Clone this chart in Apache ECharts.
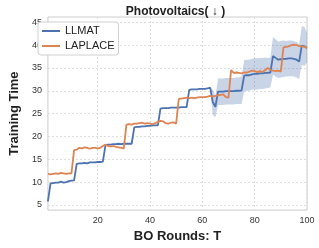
<!DOCTYPE html>
<html><head><meta charset="utf-8">
<script src="https://cdn.jsdelivr.net/npm/echarts@6/dist/echarts.min.js"></script>
<style>html,body{margin:0;padding:0;background:#fff}#c{width:319px;height:248px}</style>
</head><body><div id="c"></div>
<script>
const rounds = Array.from({length: 100}, (_, i) => i + 1);
const llmat = [5.8,9.7,9.8,9.9,9.9,10.1,9.9,10.0,10.2,10.3,
10.4,14.0,14.1,14.1,14.2,14.1,14.3,14.3,14.3,14.4,
14.4,14.5,18.1,18.2,18.2,18.3,18.3,18.4,18.3,18.4,
18.4,18.4,18.4,22.0,22.1,22.1,22.2,22.2,22.3,22.3,
22.4,22.4,22.4,26.1,26.2,26.2,26.2,26.3,26.3,26.3,
26.3,26.4,26.4,26.4,30.2,30.3,30.3,30.3,30.4,30.4,
30.4,30.5,30.7,27.5,26.5,29.8,29.8,29.8,29.9,29.9,
29.9,29.9,30.0,30.0,30.1,33.3,33.4,33.4,33.6,33.7,
33.7,33.8,33.8,33.9,33.9,34.0,37.6,37.2,36.8,36.9,
37.0,37.0,37.1,37.1,37.0,36.8,36.4,39.9,39.7,39.4];
const llmatStd = [0,0,0,0,0,0,0,0,0,0,
0,0,0,0,0,0,0,0,0,0,
0,0,0,0,0,0,0,0,0,0,
0,0,0,0,0,0,0,0,0,0,
0,0,0,0,0,0,0,0,0,0,
0,0,0,0,0,0,0,0,0,0,
0,0,0,2.8,2.3,2.9,2.9,2.9,2.9,2.9,
2.9,2.9,2.9,2.9,3.0,3.4,3.4,3.4,3.4,3.4,
3.4,3.4,3.4,3.4,3.3,3.3,4.1,4.1,4.0,4.0,
4.0,3.9,3.9,3.9,3.9,3.9,3.8,4.2,4.3,3.2];
const laplace = [11.8,11.7,11.8,11.9,11.8,12.0,11.9,11.8,11.9,11.9,
17.0,17.1,17.5,17.4,17.6,17.5,17.3,17.5,17.5,17.4,
17.5,17.9,18.2,17.9,17.8,17.9,17.7,17.6,17.5,17.4,
22.6,22.7,22.6,22.8,22.8,22.9,23.0,22.8,22.9,22.8,
22.7,22.9,23.2,23.4,23.3,22.9,22.8,23.0,23.1,22.8,
28.2,28.3,28.4,28.5,28.4,28.5,28.4,28.5,28.6,28.6,
28.6,28.7,28.9,28.7,28.9,29.0,29.1,29.2,28.6,28.5,
34.5,33.9,34.0,33.9,33.8,34.0,34.0,34.2,34.4,34.3,
34.1,34.3,34.1,34.5,35.0,34.6,34.4,34.3,34.4,34.2,
39.5,39.6,39.7,40.0,40.1,40.0,39.8,39.7,39.6,39.4];
const xTicks = [20, 40, 60, 80, 100];
const yTicks = [5, 10, 15, 20, 25, 30, 35, 40, 45];

const BLUE = '#4c72b0', ORANGE = '#dd8452';
const pairs = arr => rounds.map((r, i) => [r, arr[i]]);
const bandRows = rounds.map((r, i) => [r, llmat[i] - llmatStd[i], llmat[i] + llmatStd[i]]);

const chart = echarts.init(document.getElementById('c'), null, {renderer: 'canvas'});
const FONT = 'Liberation Sans, Arial, sans-serif';
chart.setOption({
  animation: false,
  textStyle: {fontFamily: FONT},
  title: {
    text: 'Photovoltaics( \u2193 )', left: 170.5, top: 1, textAlign: 'center',
    textStyle: {fontSize: 12, fontWeight: 'bold', color: '#222', fontFamily: FONT}
  },
  legend: {
    data: [{name: 'LLMAT', icon: 'rect'}, {name: 'LAPLACE', icon: 'rect'}],
    orient: 'vertical', left: 38, top: 22,
    backgroundColor: '#fff', borderColor: '#d0d0d0', borderWidth: 1, borderRadius: 3,
    padding: [3, 4, 3, 4], itemGap: 3, itemWidth: 18, itemHeight: 2,
    textStyle: {fontSize: 11, color: '#222', fontFamily: FONT, lineHeight: 12}
  },
  grid: {left: 34, right: 12, top: 17, bottom: 32, show: true, borderColor: '#cccccc', borderWidth: 1},
  xAxis: {
    type: 'value', min: 1, max: 100,
    name: 'BO Rounds: T', nameLocation: 'middle', nameGap: 18,
    nameTextStyle: {fontSize: 13, fontWeight: 'bold', color: '#222', fontFamily: FONT},
    axisLine: {show: false}, axisTick: {show: false, customValues: xTicks},
    axisLabel: {customValues: xTicks, fontSize: 9, color: '#333', margin: 6},
    splitLine: {show: true, lineStyle: {color: '#dddddd', type: [2, 2], width: 1}}
  },
  yAxis: {
    type: 'value', min: 3.87, max: 46.15,
    name: 'Training Time', nameLocation: 'middle', nameGap: 24,
    nameTextStyle: {fontSize: 13, fontWeight: 'bold', color: '#222', fontFamily: FONT},
    axisLine: {show: false}, axisTick: {show: false, customValues: yTicks},
    axisLabel: {customValues: yTicks, fontSize: 9, color: '#333', margin: 6},
    splitLine: {show: true, lineStyle: {color: '#dddddd', type: [2, 2], width: 1}}
  },
  series: [
    {name: 'band', type: 'custom', data: bandRows, silent: true, z: 1,
     encode: {x: 0, y: [1, 2]},
     renderItem: function (params, api) {
       if (params.dataIndex !== 0) return null;
       const pts = [];
       for (let i = 0; i < bandRows.length; i++) pts.push(api.coord([bandRows[i][0], bandRows[i][2]]));
       for (let i = bandRows.length - 1; i >= 0; i--) pts.push(api.coord([bandRows[i][0], bandRows[i][1]]));
       return {type: 'polygon', shape: {points: pts}, style: {fill: 'rgba(76,114,176,0.3)', stroke: null}};
     }},
    {name: 'LLMAT', type: 'line', data: pairs(llmat), symbol: 'none', z: 3,
     lineStyle: {color: BLUE, width: 1.8}, itemStyle: {color: BLUE}},
    {name: 'LAPLACE', type: 'line', data: pairs(laplace), symbol: 'none', z: 3,
     lineStyle: {color: ORANGE, width: 1.8}, itemStyle: {color: ORANGE}}
  ]
});
</script></body></html>
